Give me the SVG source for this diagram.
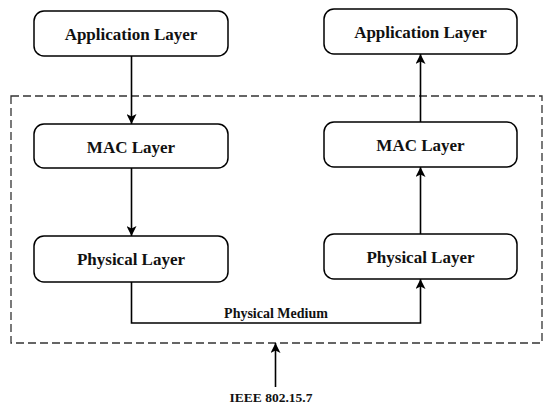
<svg xmlns="http://www.w3.org/2000/svg" width="550" height="410" viewBox="0 0 550 410">
<style>
.node rect{fill:#fff;stroke:#000;stroke-width:1.5}
.lbl{font-family:"Liberation Serif","DejaVu Serif",serif;font-weight:bold;font-size:17px;fill:#111;text-anchor:middle}
.sm{font-family:"Liberation Serif","DejaVu Serif",serif;font-weight:bold;font-size:14px;fill:#111;text-anchor:middle}
.conn{fill:none;stroke:#000;stroke-width:1.6}
</style>
<defs>
<marker id="ah" viewBox="0 0 10 10" refX="10" refY="5" markerWidth="10" markerHeight="10" markerUnits="userSpaceOnUse" orient="auto">
<path d="M0,0 L10,5 L0,10 L2.5,5 z" fill="#000"/>
</marker>
</defs>
<rect id="boundary" x="11" y="96" width="531" height="247" fill="none" stroke="#333" stroke-width="1.3" stroke-dasharray="8,4"/>
<g id="connectors">
<line class="conn" x1="131.5" y1="56" x2="131.5" y2="124" marker-end="url(#ah)"/>
<line class="conn" x1="131.5" y1="168" x2="131.5" y2="236" marker-end="url(#ah)"/>
<path class="conn" d="M131.5,282 V323 H420.5 V279" marker-end="url(#ah)"/>
<line class="conn" x1="420.5" y1="234" x2="420.5" y2="167" marker-end="url(#ah)"/>
<line class="conn" x1="420.5" y1="122" x2="420.5" y2="54" marker-end="url(#ah)"/>
<line class="conn" x1="275.5" y1="387" x2="275.5" y2="343" marker-end="url(#ah)"/>
</g>
<g id="left-app" class="node"><rect x="34" y="11" width="194" height="45" rx="10"/><text class="lbl" x="131" y="39.5">Application Layer</text></g>
<g id="left-mac" class="node"><rect x="34" y="124" width="194" height="44" rx="10"/><text class="lbl" x="131" y="152.5">MAC Layer</text></g>
<g id="left-phy" class="node"><rect x="34" y="236" width="194" height="46" rx="10"/><text class="lbl" x="131" y="264.5">Physical Layer</text></g>
<g id="right-app" class="node"><rect x="324" y="9" width="193" height="45" rx="10"/><text class="lbl" x="420.5" y="37.5">Application Layer</text></g>
<g id="right-mac" class="node"><rect x="324" y="122" width="193" height="45" rx="10"/><text class="lbl" x="420.5" y="150.5">MAC Layer</text></g>
<g id="right-phy" class="node"><rect x="324" y="234" width="193" height="45" rx="10"/><text class="lbl" x="420.5" y="262.5">Physical Layer</text></g>
<text id="medium" class="sm" x="276" y="318">Physical Medium</text>
<text id="ieee" class="sm" x="271" y="402" style="font-size:13.5px">IEEE 802.15.7</text>
</svg>
